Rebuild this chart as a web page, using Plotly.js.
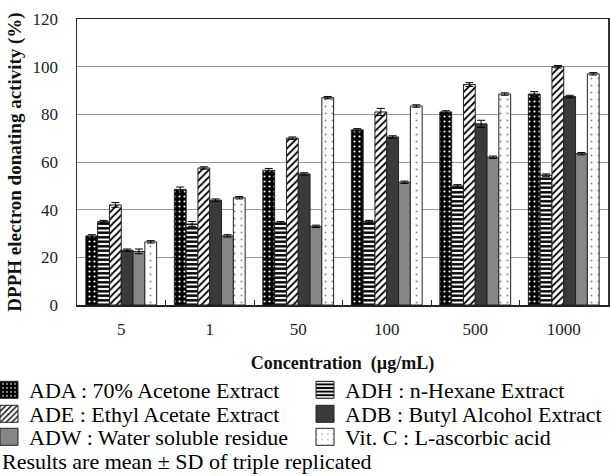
<!DOCTYPE html>
<html>
<head>
<meta charset="utf-8">
<script src="https://cdn.plot.ly/plotly-3.0.1.min.js"></script>
<style>
html,body{margin:0;padding:0;background:#fff;}
#chart{width:610px;height:476px;}
#chart g.legendpoints path.legendundefined{d:path("M9,8.5H-9V-8.5H9Z");}
</style>
</head>
<body>
<div id="chart"></div>
<script>
// ---- data ----
var concentrations = ['5', '1', '50', '100', '500', '1000'];
var ADA = [29, 48.5, 56.5, 73.5, 81, 88.5];
var ADH = [35, 34, 34.5, 35, 50, 54.5];
var ADE = [42, 57.5, 70, 81, 92.5, 100];
var ADB = [23, 44, 55, 70.5, 76, 87.5];
var ADW = [22.5, 29, 33, 51.5, 62, 63.5];
var VITC = [26.5, 45, 87, 83.5, 88.5, 97];
var ADA_sd = [0.5, 1.0, 0.8, 0.5, 0.5, 1.0];
var ADH_sd = [0.5, 1.0, 0.5, 0.5, 0.5, 0.5];
var ADE_sd = [1.0, 0.5, 0.5, 1.5, 0.8, 0.5];
var ADB_sd = [0.5, 0.5, 0.5, 0.5, 1.5, 0.5];
var ADW_sd = [1.0, 0.5, 0.5, 0.5, 0.5, 0.5];
var VITC_sd = [0.5, 0.5, 0.5, 0.5, 0.5, 0.5];
var names = ['ADA : 70% Acetone Extract', 'ADH : n-Hexane Extract', 'ADE : Ethyl Acetate Extract',
             'ADB : Butyl Alcohol Extract', 'ADW : Water soluble residue', 'Vit. C : L-ascorbic acid'];
var yTicks = [0, 20, 40, 60, 80, 100, 120];
var xTitle = 'Concentration  (µg/mL)';
var yTitle = 'DPPH electron donating activity (%)';
var note = 'Results are mean ± SD of triple replicated';

var FONT = '"Liberation Serif", "Times New Roman", Times, serif';
var seriesVals = [ADA, ADH, ADE, ADB, ADW, VITC];
var seriesSd = [ADA_sd, ADH_sd, ADE_sd, ADB_sd, ADW_sd, VITC_sd];
var markers = [
  {color: '#000', pattern: {shape: '.', bgcolor: '#000', fgcolor: '#fff', size: 5, solidity: 0.15}},
  {color: '#fff', pattern: {shape: '-', bgcolor: '#fff', fgcolor: '#000', size: 4.5, solidity: 0.55}},
  {color: '#fff', pattern: {shape: '/', bgcolor: '#fff', fgcolor: '#000', size: 5, solidity: 0.35}},
  {color: '#3a3a3a'},
  {color: '#868686'},
  {color: '#fff', pattern: {shape: '.', bgcolor: '#fff', fgcolor: '#888', size: 7, solidity: 0.06}}
];
var legendIds = ['legend', 'legend2', 'legend3', 'legend4', 'legend5', 'legend6'];

var traces = seriesVals.map(function (vals, i) {
  var m = JSON.parse(JSON.stringify(markers[i]));
  m.line = {color: '#222', width: 1};
  return {
    type: 'bar', x: concentrations, y: vals, name: names[i],
    marker: m, legend: legendIds[i],
    error_y: {type: 'data', array: seriesSd[i], visible: true, color: '#000', thickness: 1, width: 4},
    hoverinfo: 'x+y+name'
  };
});

// plot area in px: left 77, right 608, top 19, bottom 305
var L = 77, W = 531, T = 19, H = 286;
function px2x(px) { return (px - L) / W; }
function px2y(py) { return (T + H - py) / H; }
var legFont = {family: FONT, size: 22, color: '#000'};
function leg(xpx, ypx) {
  return {x: px2x(xpx), y: px2y(ypx), xanchor: 'left', yanchor: 'middle',
          bgcolor: 'rgba(0,0,0,0)', borderwidth: 0, font: legFont};
}

var layout = {
  width: 610, height: 476,
  margin: {l: L, r: 610 - L - W, t: T, b: 476 - T - H, autoexpand: false},
  paper_bgcolor: '#fff', plot_bgcolor: '#fff',
  font: {family: FONT, color: '#000'},
  barmode: 'group', bargap: 0.2, bargroupgap: 0,
  showlegend: true,
  legend: leg(-11, 390), legend2: leg(305, 390),
  legend3: leg(-11, 414), legend4: leg(305, 414),
  legend5: leg(-11, 437), legend6: leg(305, 437),
  xaxis: {
    type: 'category', categoryorder: 'array', categoryarray: concentrations,
    showline: true, linecolor: '#222', linewidth: 1.5, mirror: true,
    ticks: 'inside', tickson: 'boundaries', ticklen: 5, tickcolor: '#222',
    tickfont: {family: FONT, size: 17, color: '#222'}, ticklabelstandoff: 8,
    showgrid: false, zeroline: false, automargin: false,
    title: {text: xTitle, font: {family: FONT, size: 18, color: '#111', weight: 'bold'}, standoff: 18}
  },
  yaxis: {
    range: [0, 120], tickvals: yTicks, ticktext: yTicks.map(String),
    showline: true, linecolor: '#333', linewidth: 1.5, mirror: true,
    ticks: '', tickfont: {family: FONT, size: 17, color: '#222'}, ticklabelstandoff: 14,
    showgrid: true, gridcolor: '#9a9a9a', gridwidth: 1, zeroline: false, automargin: false,
    title: {text: yTitle, font: {family: FONT, size: 19, color: '#111', weight: 'bold'}, standoff: 6}
  },
  annotations: [{
    text: note, xref: 'paper', yref: 'paper', x: px2x(0), y: px2y(461),
    xanchor: 'left', yanchor: 'middle', showarrow: false,
    font: {family: FONT, size: 22, color: '#000'}
  }]
};

Plotly.newPlot('chart', traces, layout, {displayModeBar: false, staticPlot: true});
</script>
</body>
</html>
